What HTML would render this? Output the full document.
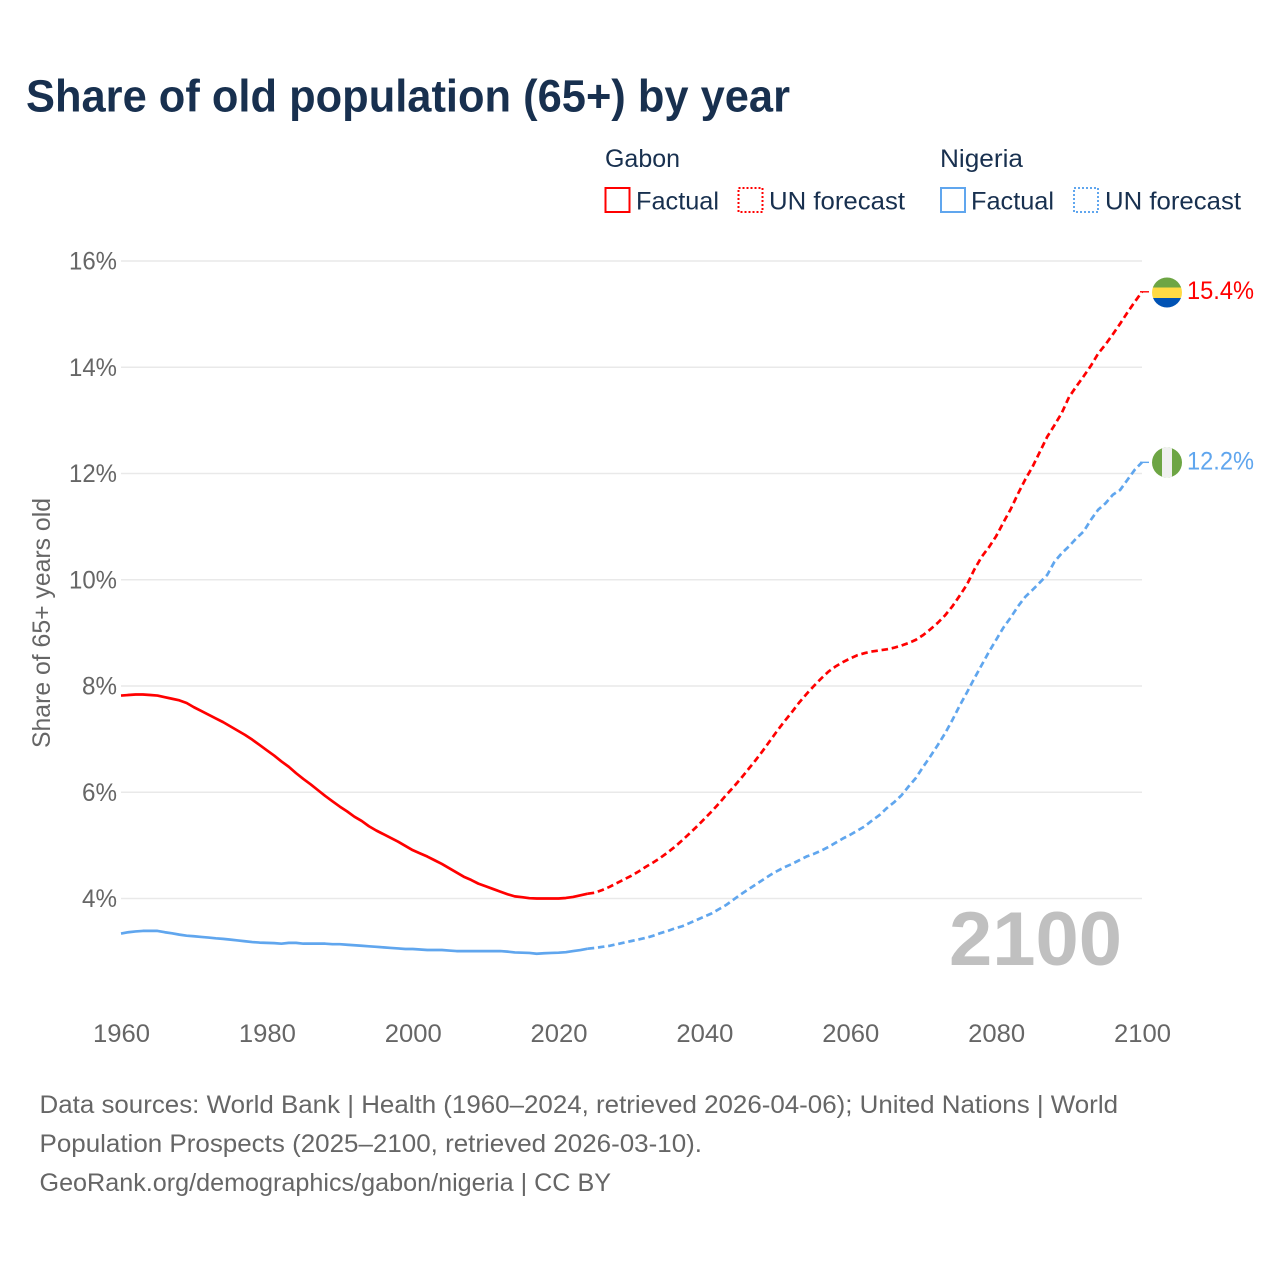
<!DOCTYPE html>
<html lang="en">
<head>
<meta charset="utf-8">
<title>Share of old population (65+) by year</title>
<style>
html,body{margin:0;padding:0;background:#fff;}
svg{display:block;font-family:"Liberation Sans",sans-serif;}
</style>
</head>
<body>
<svg id="chart" xmlns="http://www.w3.org/2000/svg" width="1280" height="1280" viewBox="0 0 1280 1280">
  <rect width="1280" height="1280" fill="#ffffff"/>
  <text x="26" y="111.5" font-size="45" font-weight="700" fill="#18304f" textLength="764" lengthAdjust="spacingAndGlyphs">Share of old population (65+) by year</text>

  <g>
    <text x="605" y="167" font-size="25" fill="#18304f" textLength="75" lengthAdjust="spacingAndGlyphs">Gabon</text>
    <text x="940" y="167" font-size="25" fill="#18304f" textLength="83" lengthAdjust="spacingAndGlyphs">Nigeria</text>
    <g>
      <rect x="605.5" y="188" width="24" height="24" fill="none" stroke="#ff0000" stroke-width="2"/>
      <text x="636" y="209.5" font-size="25" fill="#18304f" textLength="83" lengthAdjust="spacingAndGlyphs">Factual</text>
    </g>
    <g>
      <rect x="738.5" y="188" width="24" height="24" fill="none" stroke="#ff0000" stroke-width="2" stroke-dasharray="2 2"/>
      <text x="769" y="209.5" font-size="25" fill="#18304f" textLength="136" lengthAdjust="spacingAndGlyphs">UN forecast</text>
    </g>
    <g>
      <rect x="941" y="188" width="24" height="24" fill="none" stroke="#60a6ee" stroke-width="2"/>
      <text x="971" y="209.5" font-size="25" fill="#18304f" textLength="83" lengthAdjust="spacingAndGlyphs">Factual</text>
    </g>
    <g>
      <rect x="1074" y="188" width="24" height="24" fill="none" stroke="#60a6ee" stroke-width="2" stroke-dasharray="2 2"/>
      <text x="1105" y="209.5" font-size="25" fill="#18304f" textLength="136" lengthAdjust="spacingAndGlyphs">UN forecast</text>
    </g>
  </g>

  <g id="grid"></g>
  <g id="yticks"></g>
  <g id="xticks"></g>
  <text transform="translate(50,623) rotate(-90)" text-anchor="middle" font-size="25" fill="#666666" textLength="250" lengthAdjust="spacingAndGlyphs">Share of 65+ years old</text>
  <text x="949" y="965" font-size="76" font-weight="700" fill="#c0c0c0" textLength="173" lengthAdjust="spacingAndGlyphs">2100</text>
  <g id="series"></g>

  <g>
    <clipPath id="clip-gabon"><circle cx="1167" cy="292.5" r="15"/></clipPath>
    <g clip-path="url(#clip-gabon)">
      <rect x="1152" y="277" width="30" height="10.5" fill="#6da544"/>
      <rect x="1152" y="287.5" width="30" height="10.5" fill="#ffda44"/>
      <rect x="1152" y="298" width="30" height="10" fill="#0052b4"/>
    </g>
  </g>
  <g>
    <clipPath id="clip-nigeria"><circle cx="1167" cy="462.5" r="15"/></clipPath>
    <g clip-path="url(#clip-nigeria)">
      <rect x="1152" y="447" width="30" height="31" fill="#6da544"/>
      <rect x="1162" y="447" width="10" height="31" fill="#f0f0f0"/>
    </g>
  </g>
  <g id="endlabels"></g>

  <g>
    <text x="39.5" y="1113" font-size="25" fill="#666666" textLength="1078.5" lengthAdjust="spacingAndGlyphs">Data sources: World Bank | Health (1960–2024, retrieved 2026-04-06); United Nations | World</text>
    <text x="39.5" y="1152" font-size="25" fill="#666666" textLength="662.5" lengthAdjust="spacingAndGlyphs">Population Prospects (2025–2100, retrieved 2026-03-10).</text>
    <text x="39.5" y="1191" font-size="25" fill="#666666" textLength="571.5" lengthAdjust="spacingAndGlyphs">GeoRank.org/demographics/gabon/nigeria | CC BY</text>
  </g>
</svg>
<script>
const firstYear = 1960;
const lastFactualYear = 2024;
const xTickYears = [1960, 1980, 2000, 2020, 2040, 2060, 2080, 2100];
const yTickValues = [4, 6, 8, 10, 12, 14, 16];
const gabonValues = [
  7.82,7.83,7.84,7.84,7.83,7.82,7.79,7.76,7.73,7.68,
  7.60,7.53,7.46,7.39,7.32,7.24,7.16,7.08,6.99,6.89,
  6.79,6.69,6.58,6.48,6.36,6.25,6.15,6.04,5.93,5.83,
  5.73,5.64,5.54,5.46,5.36,5.28,5.21,5.14,5.07,4.99,
  4.91,4.85,4.79,4.72,4.65,4.57,4.49,4.41,4.35,4.28,
  4.23,4.18,4.13,4.08,4.04,4.025,4.006,4.00,4.00,4.00,
  4.00,4.01,4.03,4.06,4.09,4.11,4.16,4.22,4.29,4.36,
  4.43,4.51,4.60,4.68,4.77,4.87,4.98,5.10,5.23,5.36,
  5.50,5.64,5.79,5.95,6.10,6.26,6.43,6.60,6.78,6.97,
  7.16,7.34,7.51,7.69,7.85,8.00,8.14,8.27,8.37,8.45,
  8.52,8.58,8.62,8.65,8.67,8.69,8.72,8.76,8.81,8.87,
  8.96,9.07,9.19,9.33,9.50,9.70,9.91,10.19,10.43,10.61,
  10.82,11.08,11.33,11.62,11.89,12.13,12.41,12.69,12.91,13.14,
  13.44,13.64,13.83,14.03,14.26,14.43,14.62,14.82,15.03,15.23,
  15.42
];
const nigeriaValues = [
  3.34,3.365,3.38,3.39,3.39,3.39,3.365,3.345,3.32,3.30,
  3.29,3.277,3.265,3.25,3.24,3.226,3.21,3.195,3.18,3.17,
  3.165,3.16,3.15,3.165,3.165,3.15,3.15,3.15,3.15,3.14,
  3.14,3.13,3.12,3.11,3.10,3.09,3.08,3.07,3.06,3.05,
  3.05,3.04,3.03,3.03,3.03,3.02,3.01,3.01,3.01,3.01,
  3.01,3.01,3.01,3.00,2.985,2.98,2.975,2.96,2.97,2.975,
  2.98,2.99,3.01,3.03,3.055,3.07,3.09,3.11,3.14,3.17,
  3.20,3.23,3.26,3.30,3.35,3.39,3.44,3.48,3.54,3.60,
  3.66,3.72,3.80,3.88,3.98,4.08,4.17,4.26,4.35,4.44,
  4.52,4.59,4.65,4.72,4.79,4.84,4.90,4.97,5.05,5.13,
  5.20,5.28,5.36,5.47,5.57,5.70,5.81,5.94,6.11,6.27,
  6.48,6.68,6.89,7.11,7.36,7.63,7.88,8.14,8.39,8.64,
  8.87,9.10,9.29,9.50,9.68,9.81,9.95,10.09,10.34,10.50,
  10.63,10.78,10.91,11.13,11.32,11.44,11.60,11.69,11.88,12.07,
  12.21
];
const gabonEndLabel = "15.4%";
const nigeriaEndLabel = "12.2%";

const NS = "http://www.w3.org/2000/svg";
function xScale(year) { return 121 + (year - 1960) * (1142 - 121) / 140; }
function yScale(value) { return 898.5 - (value - 4) * (898.5 - 261) / 12; }

function make(tag, attrs, parent, content) {
  const el = document.createElementNS(NS, tag);
  for (const k in attrs) el.setAttribute(k, attrs[k]);
  if (content !== undefined) el.textContent = content;
  parent.appendChild(el);
  return el;
}

function linePath(values, fromYear, toYear) {
  let d = "";
  for (let y = fromYear; y <= toYear; y++) {
    const v = values[y - firstYear];
    d += (d ? "L" : "M") + xScale(y).toFixed(2) + " " + yScale(v).toFixed(2);
  }
  return d;
}

const gridG = document.getElementById("grid");
const yG = document.getElementById("yticks");
yTickValues.forEach(function (v) {
  const line = make("line", { x1: 121, x2: 1142, y1: yScale(v), y2: yScale(v), stroke: "#e9e9e9", "stroke-width": 1.5 }, gridG);
  
  
  const label = make("text", { x: 117, y: yScale(v) + 8.5, "text-anchor": "end", "font-size": 25, fill: "#666666", textLength: v >= 10 ? 48 : 35, lengthAdjust: "spacingAndGlyphs" }, yG, v + "%");
  
  
});

const xG = document.getElementById("xticks");
xTickYears.forEach(function (yr) {
  const label = make("text", { x: xScale(yr) + 0.5, y: 1042, "text-anchor": "middle", "font-size": 25, fill: "#666666", textLength: 57, lengthAdjust: "spacingAndGlyphs" }, xG, String(yr));
  
  
});

const seriesG = document.getElementById("series");
const lastYear = firstYear + gabonValues.length - 1;

function drawSeries(values, color) {
  const factual = make("path", { d: linePath(values, firstYear, lastFactualYear), fill: "none", stroke: color, "stroke-width": 2.7, "stroke-linejoin": "round" }, seriesG);
  
  
  const forecast = make("path", { d: linePath(values, lastFactualYear, lastYear), fill: "none", stroke: color, "stroke-width": 2.7, "stroke-dasharray": "6.5 3.8" }, seriesG);
  
  
  const endY = yScale(values[values.length - 1]);
  const connector = make("line", { x1: xScale(lastYear) - 2, x2: xScale(lastYear) + 7, y1: endY, y2: endY, stroke: color, "stroke-width": 1.4 }, seriesG);
  
  
}
drawSeries(gabonValues, "#ff0000");
drawSeries(nigeriaValues, "#60a6ee");

const endG = document.getElementById("endlabels");
const gabonLabel = make("text", { x: 1187, y: yScale(gabonValues[gabonValues.length - 1]) + 7, "font-size": 25, fill: "#ff0000", textLength: 67, lengthAdjust: "spacingAndGlyphs" }, endG, gabonEndLabel);


const nigeriaLabel = make("text", { x: 1187, y: yScale(nigeriaValues[nigeriaValues.length - 1]) + 7, "font-size": 25, fill: "#60a6ee", textLength: 67, lengthAdjust: "spacingAndGlyphs" }, endG, nigeriaEndLabel);


</script>
</body>
</html>
